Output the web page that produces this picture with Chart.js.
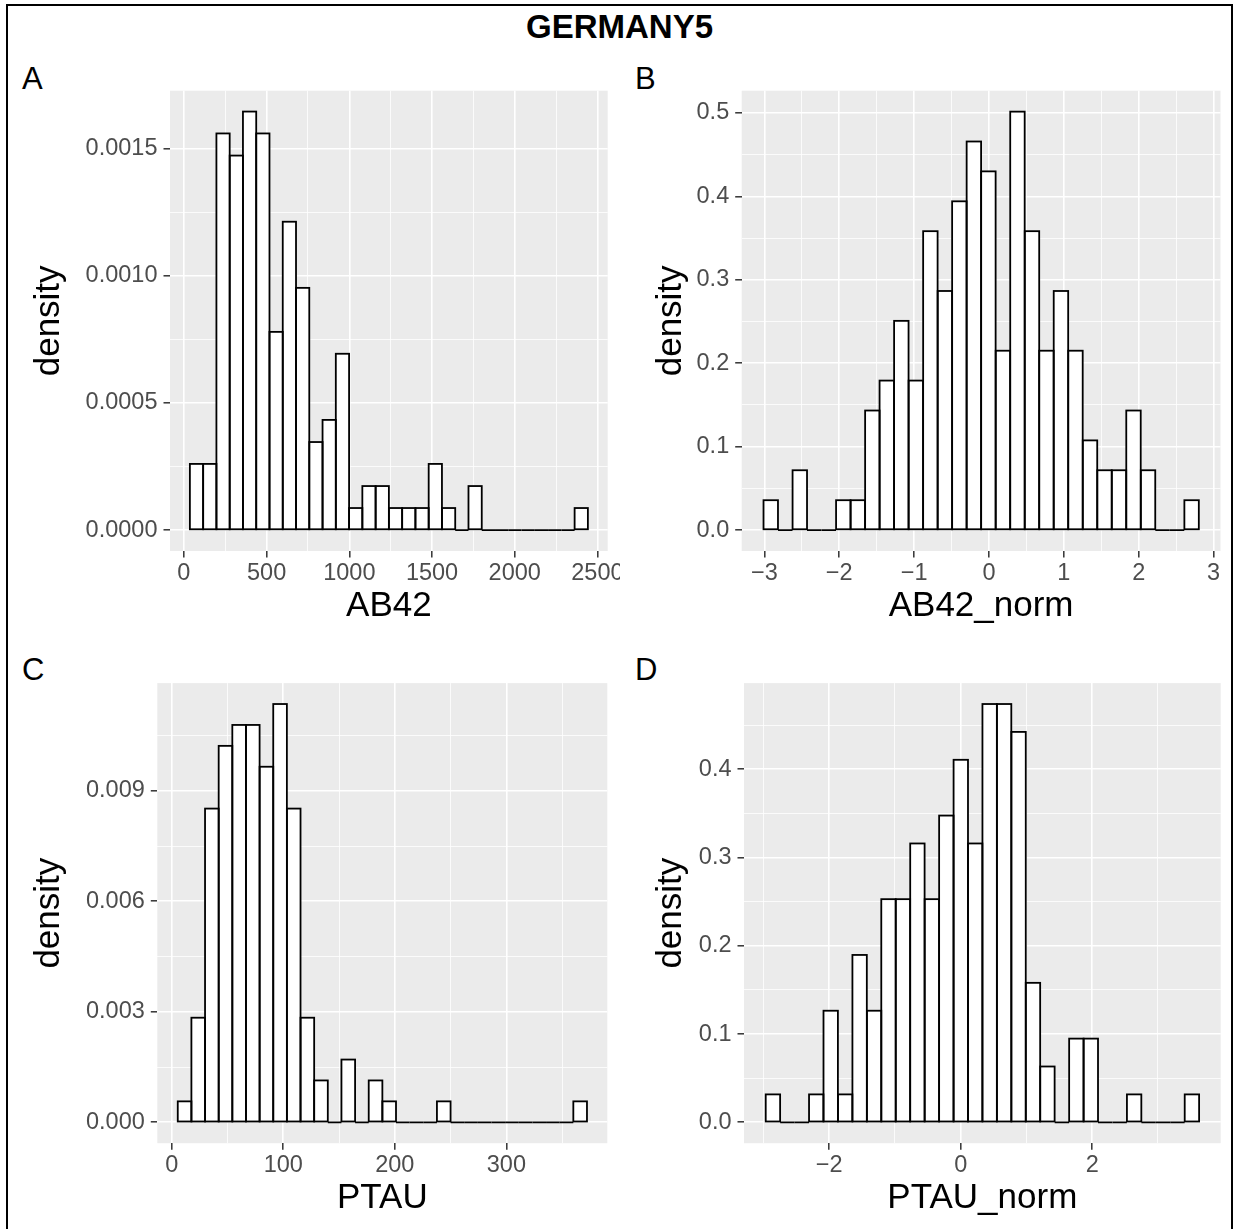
<!DOCTYPE html>
<html lang="en">
<head>
  <meta charset="UTF-8" />
  <title>GERMANY5</title>
  <script src="https://cdn.jsdelivr.net/npm/chart.js"></script>

  <style>
    body {
      margin: 0;
      background: #fff;
      width: 1235px;
      height: 1229px;
      overflow: hidden;
      position: relative;
      font-family: "Liberation Sans", Arial, sans-serif;
    }

    #frame {
      position: absolute;
      left: 6px;
      top: 4px;
      width: 1227px;
      height: 1240px;
      border: 2px solid #000;
      box-sizing: border-box;
    }

    #title {
      position: absolute;
      left: 0;
      top: 10.4px;
      width: 1239px;
      text-align: center;
      font-weight: bold;
      font-size: 33px;
      line-height: 33px;
      color: #000;
    }

    .tag {
      position: absolute;
      font-size: 31px;
      line-height: 31px;
      color: #000;
    }

    .cell {
      position: absolute;
      overflow: hidden;
    }

    .cell canvas {
      position: absolute;
      left: 0;
      top: 0;
    }
  </style>
</head>
<body>

  <div id="frame"></div>
  <div id="title">GERMANY5</div>
  <div class="tag" style="left:22px; top:62.5px;">A</div>
  <div class="tag" style="left:635px; top:62.5px;">B</div>
  <div class="tag" style="left:22px; top:653.8px;">C</div>
  <div class="tag" style="left:635px; top:653.8px;">D</div>

  <div class="cell" style="left:8px; top:60px; width:612px; height:580px;">
    <canvas id="chartA" width="652" height="580"></canvas>
  </div>
  <div class="cell" style="left:622px; top:60px; width:608px; height:580px;">
    <canvas id="chartB" width="608" height="580"></canvas>
  </div>
  <div class="cell" style="left:8px; top:653px; width:612px; height:576px;">
    <canvas id="chartC" width="652" height="576"></canvas>
  </div>
  <div class="cell" style="left:622px; top:653px; width:608px; height:576px;">
    <canvas id="chartD" width="608" height="576"></canvas>
  </div>

  <script>
    // ---- A: AB42 ----
    const ab42Centers = [76.3, 156.5, 236.7, 316.9, 397.1, 477.3, 557.5, 637.7, 717.9, 798.1,
                         878.3, 958.5, 1038.7, 1118.9, 1199.1, 1279.3, 1359.5, 1439.7, 1519.9, 1600.1,
                         1680.3, 1760.5, 1840.7, 1920.9, 2001.1, 2081.3, 2161.5, 2241.7, 2321.9, 2402.1];
    const ab42Density = [0.000260, 0.000260, 0.001559, 0.001472, 0.001645, 0.001559, 0.000779, 0.001212, 0.000952, 0.000346,
                         0.000433, 0.000693, 0.0000866, 0.000173, 0.000173, 0.0000866, 0.0000866, 0.0000866, 0.000260, 0.0000866,
                         0, 0.000173, 0, 0, 0, 0, 0, 0, 0, 0.0000866];
    const ab42XMajor = [0, 500, 1000, 1500, 2000, 2500];
    const ab42XLabels = ['0', '500', '1000', '1500', '2000', '2500'];
    const ab42XMinor = [250, 750, 1250, 1750, 2250];
    const ab42YMajor = [0, 0.0005, 0.001, 0.0015];
    const ab42YLabels = ['0.0000', '0.0005', '0.0010', '0.0015'];
    const ab42YMinor = [0.00025, 0.00075, 0.00125];

    // ---- B: AB42_norm ----
    const ab42nCenters = [-2.914, -2.720, -2.526, -2.333, -2.139, -1.945, -1.751, -1.557, -1.364, -1.170,
                          -0.976, -0.782, -0.588, -0.395, -0.201, -0.007, 0.187, 0.381, 0.575, 0.768,
                          0.962, 1.156, 1.350, 1.544, 1.737, 1.931, 2.125, 2.319, 2.513, 2.707];
    const ab42nDensity = [0.0358, 0, 0.0717, 0, 0, 0.0358, 0.0358, 0.1433, 0.1792, 0.2508,
                          0.1792, 0.3583, 0.2866, 0.3941, 0.4658, 0.4300, 0.2150, 0.5016, 0.3583, 0.2150,
                          0.2866, 0.2150, 0.1075, 0.0717, 0.0717, 0.1433, 0.0717, 0, 0, 0.0358];
    const ab42nXMajor = [-3, -2, -1, 0, 1, 2, 3];
    const ab42nXLabels = ['\u22123', '\u22122', '\u22121', '0', '1', '2', '3'];
    const ab42nXMinor = [-2.5, -1.5, -0.5, 0.5, 1.5, 2.5];
    const ab42nYMajor = [0, 0.1, 0.2, 0.3, 0.4, 0.5];
    const ab42nYLabels = ['0.0', '0.1', '0.2', '0.3', '0.4', '0.5'];
    const ab42nYMinor = [0.05, 0.15, 0.25, 0.35, 0.45];

    // ---- C: PTAU ----
    const ptauCenters = [11.49, 23.72, 35.95, 48.18, 60.41, 72.64, 84.87, 97.10, 109.33, 121.56,
                         133.79, 146.02, 158.25, 170.48, 182.71, 194.94, 207.17, 219.40, 231.63, 243.86,
                         256.09, 268.32, 280.55, 292.78, 305.01, 317.24, 329.47, 341.70, 353.93, 366.16];
    const ptauDensity = [0.000568, 0.002839, 0.008517, 0.010220, 0.010788, 0.010788, 0.009653, 0.011356, 0.008517, 0.002839,
                         0.001136, 0, 0.001703, 0, 0.001136, 0.000568, 0, 0, 0, 0.000568,
                         0, 0, 0, 0, 0, 0, 0, 0, 0, 0.000568];
    const ptauXMajor = [0, 100, 200, 300];
    const ptauXLabels = ['0', '100', '200', '300'];
    const ptauXMinor = [50, 150, 250, 350];
    const ptauYMajor = [0, 0.003, 0.006, 0.009];
    const ptauYLabels = ['0.000', '0.003', '0.006', '0.009'];
    const ptauYMinor = [0.0015, 0.0045, 0.0075, 0.0105];

    // ---- D: PTAU_norm ----
    const ptaunCenters = [-2.857, -2.637, -2.418, -2.198, -1.978, -1.758, -1.538, -1.318, -1.099, -0.879,
                          -0.659, -0.439, -0.219, 0.001, 0.220, 0.440, 0.660, 0.880, 1.099, 1.319,
                          1.539, 1.759, 1.979, 2.198, 2.418, 2.638, 2.858, 3.078, 3.297, 3.517];
    const ptaunDensity = [0.0316, 0, 0, 0.0316, 0.1264, 0.0316, 0.1896, 0.1264, 0.2528, 0.2528,
                          0.3159, 0.2528, 0.3475, 0.4107, 0.3159, 0.4739, 0.4739, 0.4423, 0.1580, 0.0632,
                          0, 0.0948, 0.0948, 0, 0, 0.0316, 0, 0, 0, 0.0316];
    const ptaunXMajor = [-2, 0, 2];
    const ptaunXLabels = ['\u22122', '0', '2'];
    const ptaunXMinor = [-3, -1, 1, 3];
    const ptaunYMajor = [0, 0.1, 0.2, 0.3, 0.4];
    const ptaunYLabels = ['0.0', '0.1', '0.2', '0.3', '0.4'];
    const ptaunYMinor = [0.05, 0.15, 0.25, 0.35, 0.45];

    Chart.defaults.font.family = '"Liberation Sans", Arial, sans-serif';

    const tickFont = { size: 23.5 };
    const titleFont = { size: 35 };

    // grey panel behind the grid
    const panelBackground = {
      id: 'panelBackground',
      beforeDraw(chart) {
        const a = chart.chartArea;
        const ctx = chart.ctx;
        ctx.save();
        ctx.fillStyle = '#EBEBEB';
        ctx.fillRect(a.left, a.top, a.right - a.left, a.bottom - a.top);
        ctx.restore();
      }
    };

    // ggplot-like outline, stroke centred on the bar edges (zero bins give a flat line)
    const barOutline = {
      id: 'barOutline',
      afterDatasetsDraw(chart) {
        const ctx = chart.ctx;
        const meta = chart.getDatasetMeta(0);
        ctx.save();
        ctx.strokeStyle = '#000';
        ctx.lineWidth = 1.8;
        meta.data.forEach(bar => {
          const p = bar.getProps(['x', 'y', 'base', 'width'], true);
          ctx.strokeRect(p.x - p.width / 2, p.y, p.width, p.base - p.y);
        });
        ctx.restore();
      }
    };

    function near(list, v) {
      return list.findIndex(m => Math.abs(m - v) < 1e-9);
    }

    function axis(opts) {
      const { min, max, major, labels, minor, size, vertical, title, titlePad } = opts;
      return {
        type: 'linear',
        min: min,
        max: max,
        offset: false,
        afterFit: s => {
          if (vertical) s.width = size; else s.height = size;
        },
        afterBuildTicks: s => {
          s.ticks = major.concat(minor).sort((a, b) => a - b).map(v => ({ value: v }));
        },
        grid: {
          offset: false,
          color: '#FFFFFF',
          lineWidth: c => (c.tick && near(major, c.tick.value) >= 0) ? 1.6 : 0.8,
          drawTicks: true,
          tickLength: 6.5,
          tickWidth: 1.5,
          tickColor: c => (c.tick && near(major, c.tick.value) >= 0) ? '#333333' : 'rgba(0,0,0,0)'
        },
        border: { display: false },
        ticks: {
          autoSkip: false,
          maxRotation: 0,
          minRotation: 0,
          padding: vertical ? 6 : 1.5,
          color: '#4D4D4D',
          font: tickFont,
          callback: v => {
            const i = near(major, v);
            return i >= 0 ? labels[i] : '';
          }
        },
        title: {
          display: true,
          text: title,
          color: '#000000',
          font: titleFont,
          padding: vertical ? { top: titlePad, bottom: 0 } : { top: 0, bottom: titlePad }
        }
      };
    }

    function drawPanel(p) {
      const canvas = document.getElementById(p.id);
      const cell = canvas.parentNode;
      const cLeft = parseFloat(cell.style.left);
      const cTop = parseFloat(cell.style.top);
      const cRight = cLeft + canvas.width;
      const cBottom = cTop + canvas.height;

      new Chart(canvas, {
        type: 'bar',
        data: {
          datasets: [{
            data: p.centers.map((x, i) => ({ x: x, y: p.density[i] })),
            backgroundColor: '#FFFFFF',
            borderWidth: 0,
            barPercentage: 1,
            categoryPercentage: 1
          }]
        },
        options: {
          responsive: false,
          animation: false,
          devicePixelRatio: 1,
          events: [],
          layout: {
            autoPadding: false,
            padding: { left: 0, top: p.panel.t - cTop, right: cRight - p.panel.r, bottom: 0 }
          },
          plugins: {
            legend: { display: false },
            title: { display: false },
            tooltip: { enabled: false }
          },
          scales: {
            x: axis({
              min: p.xRange[0], max: p.xRange[1],
              major: p.xMajor, labels: p.xLabels, minor: p.xMinor,
              size: cBottom - p.panel.b, vertical: false,
              title: p.xTitle, titlePad: p.xTitlePad
            }),
            y: axis({
              min: p.yRange[0], max: p.yRange[1],
              major: p.yMajor, labels: p.yLabels, minor: p.yMinor,
              size: p.panel.l - cLeft, vertical: true,
              title: 'density', titlePad: p.yTitlePad
            })
          }
        },
        plugins: [panelBackground, barOutline]
      });
    }

    drawPanel({
      id: 'chartA', panel: { l: 170, t: 90.7, r: 607.7, b: 551 },
      centers: ab42Centers, density: ab42Density,
      xRange: [-84, 2562], yRange: [-0.0000823, 0.001727],
      xMajor: ab42XMajor, xLabels: ab42XLabels, xMinor: ab42XMinor,
      yMajor: ab42YMajor, yLabels: ab42YLabels, yMinor: ab42YMinor,
      xTitle: 'AB42', xTitlePad: 12.8, yTitlePad: 20.4
    });

    drawPanel({
      id: 'chartB', panel: { l: 741.7, t: 90.7, r: 1220.5, b: 551 },
      centers: ab42nCenters, density: ab42nDensity,
      xRange: [-3.302, 3.093], yRange: [-0.0251, 0.5267],
      xMajor: ab42nXMajor, xLabels: ab42nXLabels, xMinor: ab42nXMinor,
      yMajor: ab42nYMajor, yLabels: ab42nYLabels, yMinor: ab42nYMinor,
      xTitle: 'AB42_norm', xTitlePad: 12.8, yTitlePad: 28.4
    });

    drawPanel({
      id: 'chartC', panel: { l: 157.3, t: 683.1, r: 607.3, b: 1143.2 },
      centers: ptauCenters, density: ptauDensity,
      xRange: [-12.97, 390.5], yRange: [-0.000568, 0.011924],
      xMajor: ptauXMajor, xLabels: ptauXLabels, xMinor: ptauXMinor,
      yMajor: ptauYMajor, yLabels: ptauYLabels, yMinor: ptauYMinor,
      xTitle: 'PTAU', xTitlePad: 9.6, yTitlePad: 20.4
    });

    drawPanel({
      id: 'chartD', panel: { l: 744, t: 683.1, r: 1220.7, b: 1143.2 },
      centers: ptaunCenters, density: ptaunDensity,
      xRange: [-3.297, 3.955], yRange: [-0.0237, 0.4976],
      xMajor: ptaunXMajor, xLabels: ptaunXLabels, xMinor: ptaunXMinor,
      yMajor: ptaunYMajor, yLabels: ptaunYLabels, yMinor: ptaunYMinor,
      xTitle: 'PTAU_norm', xTitlePad: 9.6, yTitlePad: 28.4
    });
  </script>

</body>
</html>
